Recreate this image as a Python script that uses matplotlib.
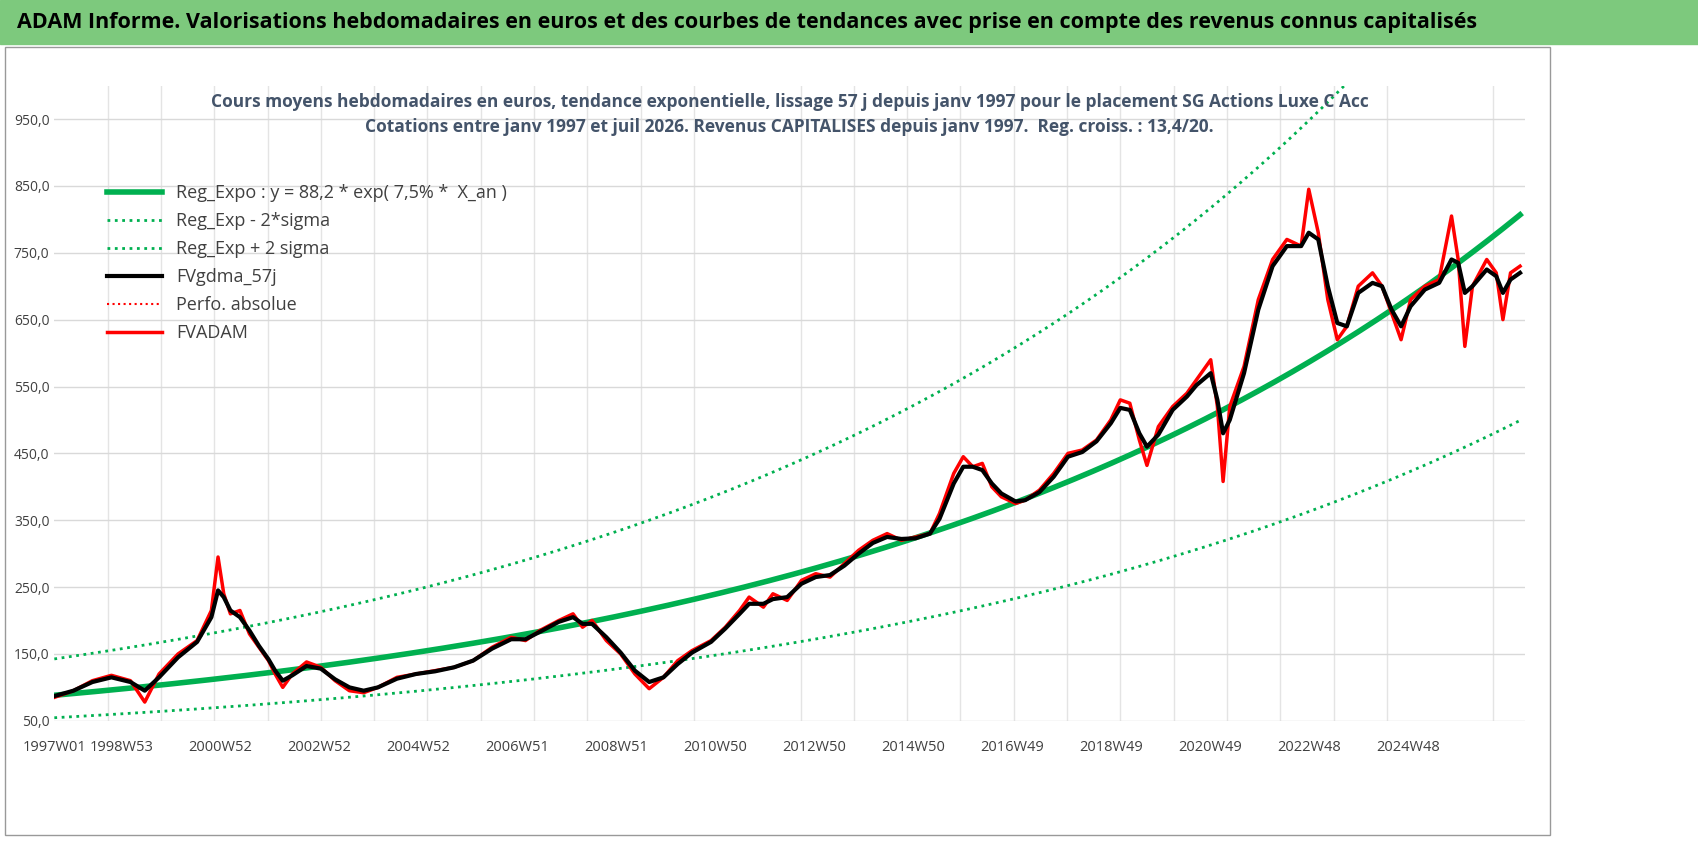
# -*- coding: utf-8 -*-
"""
weekly valuation chart with exponential trend and 2 sigma bands
the trend is described as:
    y = 88.2 * exp(0.075 * X_an)
"""

#importing required libraries
import numpy as np
import matplotlib.pyplot as plt
###########################################

# weekly index of the points read on the chart (0 = 1997W01)
weeks = [0, 20, 40, 60, 80, 95, 110, 130, 150, 165, 172, 178, 185, 195, 205, 215, 225, 232, 240, 250,
         265, 280, 295, 310, 325, 340, 360, 380, 400, 420, 440, 460, 480, 495, 510, 530, 545, 555, 565, 580,
         595, 610, 625, 640, 655, 670, 690, 705, 720, 730, 745, 755, 770, 785, 800, 815, 830, 845, 860, 875,
         890, 905, 920, 930, 945, 955, 965, 975, 985, 995, 1010, 1020, 1035, 1050, 1065, 1080, 1095, 1110, 1120, 1130,
         1140, 1148, 1160, 1175, 1190, 1200, 1215, 1222, 1228, 1235, 1250, 1265, 1280, 1295, 1310, 1318, 1328, 1338, 1348, 1358,
         1370, 1385, 1395, 1405, 1415, 1425, 1440, 1455, 1468, 1475, 1482, 1490, 1505, 1515, 1522, 1530, 1540]

# FVADAM weekly values (euros)
fvadam = [85, 95, 110, 118, 110, 78, 120, 150, 170, 215, 295, 240, 210, 215, 180, 160, 140, 120, 100, 120,
          138, 130, 110, 95, 92, 100, 115, 120, 125, 130, 140, 160, 175, 170, 185, 200, 210, 190, 200, 170,
          150, 120, 98, 115, 140, 155, 170, 190, 215, 235, 220, 240, 230, 260, 270, 265, 285, 305, 320, 330,
          320, 325, 330, 360, 420, 445, 430, 435, 400, 385, 375, 380, 395, 420, 450, 455, 470, 500, 530, 525,
          470, 432, 490, 520, 540, 560, 590, 520, 408, 520, 580, 680, 740, 770, 760, 845, 780, 680, 620, 640,
          700, 720, 700, 660, 620, 680, 700, 710, 805, 740, 610, 700, 740, 720, 650, 720, 730]

# FVgdma_57j smoothed values (euros)
fvgdma = [87, 95, 108, 115, 108, 95, 115, 145, 168, 205, 245, 235, 215, 205, 185, 162, 142, 125, 110, 118,
          132, 128, 112, 100, 95, 100, 113, 120, 124, 130, 140, 158, 172, 172, 183, 198, 205, 195, 195, 175,
          152, 125, 108, 115, 135, 152, 168, 188, 210, 225, 225, 232, 235, 255, 265, 268, 282, 300, 316, 325,
          322, 323, 330, 352, 405, 430, 430, 425, 405, 390, 378, 380, 392, 415, 445, 452, 468, 495, 518, 515,
          480, 460, 478, 515, 535, 552, 570, 530, 480, 500, 570, 665, 730, 760, 760, 780, 770, 700, 645, 640,
          690, 705, 700, 665, 640, 670, 695, 705, 740, 735, 690, 700, 725, 715, 690, 710, 720]

tick_labels = ['1997W01', '1998W53', '2000W52', '2002W52', '2004W52', '2006W51', '2008W51', '2010W50',
               '2012W50', '2014W50', '2016W49', '2018W49', '2020W49', '2022W48', '2024W48']

###########################################

# trend curves
t = np.arange(0, 1541)
X_an = t / 52.18
reg = 88.2 * np.exp(0.075 * X_an)
reg_low = reg * np.exp(-0.48)
reg_high = reg * np.exp(0.48)

plt.rcParams['font.family'] = ['Open Sans', 'DejaVu Sans']

fig = plt.figure(figsize=(16.98, 8.48), dpi=100, facecolor='white')  #set up the figure proporties
fig.patches.append(plt.Rectangle((0, 0.948), 1, 0.052, transform=fig.transFigure, color='#7dc97d', zorder=0))
fig.text(0.01, 0.973, 'ADAM Informe. Valorisations hebdomadaires en euros et des courbes de tendances avec prise en compte des revenus connus capitalisés',
         fontsize=15.5, fontweight='bold', va='center', ha='left')
fig.patches.append(plt.Rectangle((0.003, 0.015), 0.91, 0.93, transform=fig.transFigure, fill=False, ec='#999999', lw=1))

ax0 = fig.add_axes([0.032, 0.15, 0.866, 0.749])
ax0.plot(t, reg, color='#00b050', lw=4, label='Reg_Expo : y = 88,2 * exp( 7,5% *  X_an )')
ax0.plot(t, reg_low, color='#00b050', lw=2, ls=':', label='Reg_Exp - 2*sigma')
ax0.plot(t, reg_high, color='#00b050', lw=2, ls=':', label='Reg_Exp + 2 sigma')
ax0.plot(weeks, fvgdma, color='black', lw=3, label='FVgdma_57j', zorder=4)
ax0.plot([], [], color='red', lw=1.5, ls=':', label='Perfo. absolue')
ax0.plot(weeks, fvadam, color='red', lw=2.5, label='FVADAM', zorder=3)

plt.xlim(0, 1545)
plt.ylim(50, 1000)
ax0.set_yticks(np.arange(50, 951, 100))
ax0.set_yticklabels(['%d,0' % v for v in np.arange(50, 951, 100)], fontsize=10, color='#404040')
ax0.set_xticks(np.arange(0, 1457, 104))
ax0.set_xticklabels(tick_labels, fontsize=10.5, color='#404040', ha='right')
ax0.get_xticklabels()[0].set_ha('center')  # first label would be cut at the edge
ax0.set_xticks(np.arange(0, 1545, 56), minor=True)
ax0.tick_params(length=0, which='both')
ax0.tick_params(axis='x', pad=14)
ax0.grid(axis='y', color='#d9d9d9', lw=1)
ax0.grid(axis='x', which='minor', color='#e4e4e4', lw=1)
for s in ax0.spines.values():
    s.set_visible(False)

ax0.text(0.5, 0.975, 'Cours moyens hebdomadaires en euros, tendance exponentielle, lissage 57 j depuis janv 1997 pour le placement SG Actions Luxe C Acc',
         transform=ax0.transAxes, ha='center', va='center', fontsize=12.5, fontweight='bold', color='#44546a')
ax0.text(0.5, 0.935, 'Cotations entre janv 1997 et juil 2026. Revenus CAPITALISES depuis janv 1997.  Reg. croiss. : 13,4/20.',
         transform=ax0.transAxes, ha='center', va='center', fontsize=12.5, fontweight='bold', color='#44546a')

leg = ax0.legend(loc='upper left', bbox_to_anchor=(0.025, 0.87), frameon=False, fontsize=13,
                 handlelength=3, labelspacing=0.55, labelcolor='#404040')

fig.savefig('out.png')
